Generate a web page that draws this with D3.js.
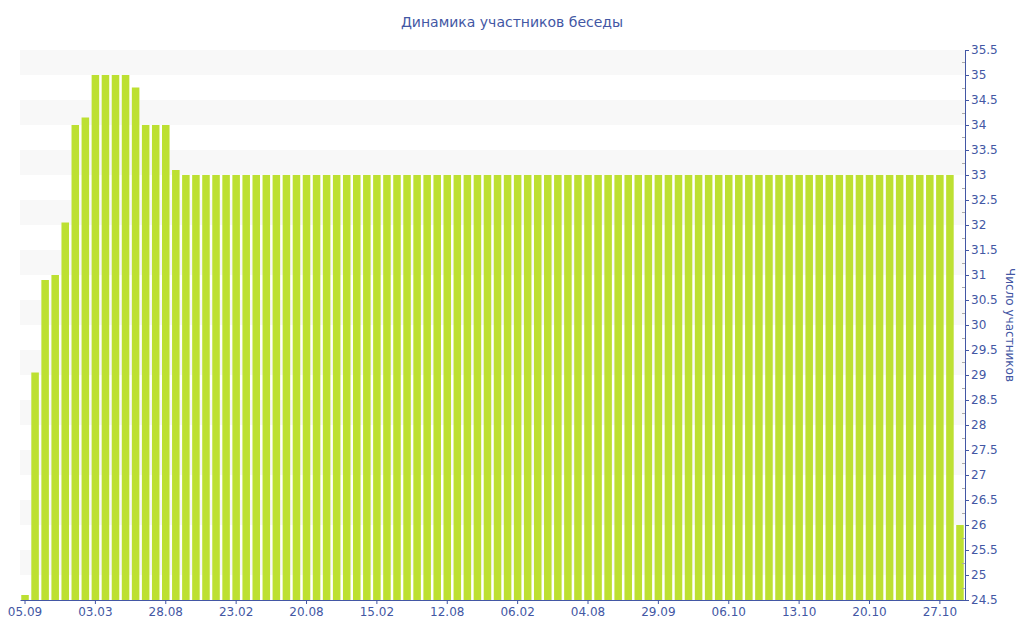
<!DOCTYPE html>
<html>
<head>
<meta charset="UTF-8">
<title>Динамика участников беседы</title>
<style>
  body { margin: 0; background: #fff; }
  text { font-family: "DejaVu Sans", Verdana, sans-serif; }
</style>
</head>
<body>
<script src="https://d3js.org/d3.v7.min.js"></script>
<script>
// chart values, one per bar (10 per line, 94 bars)
var members = [
  24.6, 29.05, 30.9, 31.0, 32.05, 34.0, 34.15, 35, 35, 35,
  35, 34.75, 34, 34, 34, 33.1, 33, 33, 33, 33,
  33, 33, 33, 33, 33, 33, 33, 33, 33, 33,
  33, 33, 33, 33, 33, 33, 33, 33, 33, 33,
  33, 33, 33, 33, 33, 33, 33, 33, 33, 33,
  33, 33, 33, 33, 33, 33, 33, 33, 33, 33,
  33, 33, 33, 33, 33, 33, 33, 33, 33, 33,
  33, 33, 33, 33, 33, 33, 33, 33, 33, 33,
  33, 33, 33, 33, 33, 33, 33, 33, 33, 33,
  33, 33, 33, 26
];
// labels shown under every 7th bar
var tickLabels = ["05.09", "03.03", "28.08", "23.02", "20.08", "15.02", "12.08",
                  "06.02", "04.08", "29.09", "06.10", "13.10", "20.10", "27.10"];
var tickStep = 7;
var yTicks = [24.5, 25, 25.5, 26, 26.5, 27, 27.5, 28, 28.5, 29, 29.5, 30, 30.5, 31, 31.5,
              32, 32.5, 33, 33.5, 34, 34.5, 35, 35.5];

var W = 1024, H = 640;
var margin = { top: 50, right: 59, bottom: 40, left: 20 };
var width = W - margin.left - margin.right,
    height = H - margin.top - margin.bottom;
var blue = "#4357a4";

var svg = d3.select("body").append("svg")
    .attr("width", W).attr("height", H);

svg.append("text")
    .attr("x", W / 2).attr("y", 27)
    .attr("text-anchor", "middle")
    .attr("font-size", 14)
    .attr("fill", blue)
    .text("Динамика участников беседы");

var g = svg.append("g")
    .attr("transform", "translate(" + margin.left + "," + margin.top + ")");

var x = d3.scaleBand()
    .domain(members.map(function(d, i) { return "b" + i; }))
    .range([0, width])
    .paddingInner(0.25)
    .paddingOuter(0.125);

var y = d3.scaleLinear()
    .domain([24.5, 35.5])
    .range([height, 0]);

// striped background
g.append("g").selectAll("rect")
  .data(yTicks.filter(function(t) { return t % 1 === 0 && t < 35.5; }))
  .enter().append("rect")
    .attr("x", 0)
    .attr("width", width)
    .attr("y", function(d) { return y(d + 0.5); })
    .attr("height", function(d) { return y(d) - y(d + 0.5); })
    .attr("fill", "#f8f8f8");

g.append("g").selectAll("rect")
  .data(members)
  .enter().append("rect")
    .attr("x", function(d, i) { return x("b" + i); })
    .attr("width", x.bandwidth())
    .attr("y", function(d) { return y(d); })
    .attr("height", function(d) { return height - y(d); })
    .attr("fill", "#bde032");

// minor ticks on the right axis
g.append("g").selectAll("line")
  .data(yTicks.slice(0, -1))
  .enter().append("line")
    .attr("x1", width - 3).attr("x2", width)
    .attr("y1", function(d) { return Math.round(y(d + 0.25)) + 0.5; })
    .attr("y2", function(d) { return Math.round(y(d + 0.25)) + 0.5; })
    .attr("stroke", "#aaaaaa");

var yAxis = g.append("g")
    .attr("transform", "translate(" + width + ",0)")
    .call(d3.axisRight(y).tickValues(yTicks).tickSize(4).tickPadding(2)
          .tickFormat(function(d) { return d; }));
yAxis.selectAll("path, line").attr("stroke", blue);
yAxis.selectAll("text").attr("fill", blue).attr("font-size", 12)
    .attr("font-family", "DejaVu Sans, sans-serif");

var tickKeys = tickLabels.map(function(d, i) { return "b" + (i * tickStep); });
var xAxis = g.append("g")
    .attr("transform", "translate(0," + height + ")")
    .call(d3.axisBottom(x).tickValues(tickKeys).tickSize(4).tickSizeOuter(0).tickPadding(3)
          .tickFormat(function(d, i) { return tickLabels[i]; }));
xAxis.selectAll("path, line").attr("stroke", blue);
xAxis.selectAll("text").attr("fill", blue).attr("font-size", 12)
    .attr("font-family", "DejaVu Sans, sans-serif");

svg.append("text")
    .attr("transform", "translate(1006," + (margin.top + height / 2) + ") rotate(90)")
    .attr("text-anchor", "middle")
    .attr("font-size", 12)
    .attr("fill", blue)
    .text("Число участников");
</script>
</body>
</html>
